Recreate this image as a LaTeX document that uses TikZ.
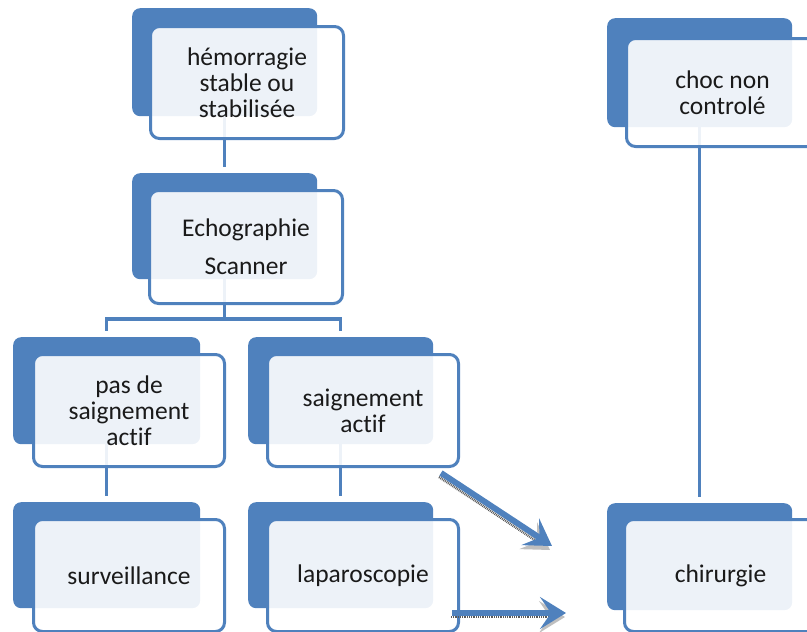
\documentclass[tikz,border=0pt]{standalone}
\usepackage{fontspec}
\setmainfont{Carlito}[Ligatures=NoCommon]
\usetikzlibrary{arrows.meta,calc}
\definecolor{sablue}{HTML}{4F81BD}
\definecolor{txt}{HTML}{1A1A1A}
\tikzset{
  backbox/.style={rectangle, rounded corners=8pt, fill=sablue, draw=none, anchor=north west, inner sep=0pt},
  frontbox/.style={rectangle, rounded corners=9pt, fill=white, fill opacity=0.9, text opacity=1, draw=sablue, line width=3pt, anchor=north west, inner sep=0pt, align=center, text=txt, font=\fontsize{25.5}{26}\selectfont},
  link/.style={draw=sablue, line width=3.2pt, shorten >=6pt},
  bigarrow/.style={draw=sablue, line width=6pt, -{Stealth[length=26pt,width=32pt,inset=11pt]}},
  arrowshadow/.style={draw=black!65, line width=2.5pt, dash pattern=on 0.9pt off 0.9pt, -{Stealth[length=26pt,width=32pt,inset=11pt,color=black!25]}}
}
\begin{document}
\begin{tikzpicture}[x=1pt,y=-1pt]
\useasboundingbox (0,0) rectangle (807,632);
\clip (0,0) rectangle (807,632);
% back boxes
\node[backbox, minimum width=185pt, minimum height=108pt] (b1) at (132,8) {};
\node[backbox, minimum width=185pt, minimum height=106pt] (b2) at (132,173) {};
\node[backbox, minimum width=187pt, minimum height=107pt] (b3) at (13,337) {};
\node[backbox, minimum width=185pt, minimum height=107pt] (b4) at (248,337) {};
\node[backbox, minimum width=187pt, minimum height=106pt] (b5) at (13,502) {};
\node[backbox, minimum width=185pt, minimum height=106pt] (b6) at (248,502) {};
\node[backbox, minimum width=185pt, minimum height=107pt] (b7) at (607,503) {};
\node[backbox, minimum width=185pt, minimum height=109pt] (b8) at (607,18) {};
% connectors
\coordinate (j) at (b2.south |- 0,319);
\draw[link] (b1.south) -- (b2.north);
\draw[link, shorten >=0pt] (b2.south) -- (j);
\draw[link] (j) -| (b3.north);
\draw[link] (j) -| (b4.north);
\draw[link] (b3.south) -- (b5.north);
\draw[link] (b4.south) -- (b6.north);
\draw[link] (b8.south) -- (b7.north);
% front boxes
\node[frontbox, minimum width=193pt, minimum height=112pt] (f1) at (149,25) {hémorragie\\stable ou\\stabilisée};
\node[frontbox, minimum width=193pt, minimum height=113pt] (f2) at (148,189) {Echographie\\[12pt]Scanner};
\node[frontbox, minimum width=191pt, minimum height=112pt] (f3) at (32,353) {pas de\\saignement\\actif};
\node[frontbox, minimum width=191pt, minimum height=112pt] (f4) at (266,353) {saignement\\actif};
\node[frontbox, minimum width=191pt, minimum height=112pt] (f5) at (32,518) {surveillance};
\node[frontbox, minimum width=191pt, minimum height=112pt] (f6) at (266,518) {laparoscopie};
\node[frontbox, minimum width=192pt, minimum height=112pt] (f7) at (623,518) {chirurgie};
\node[frontbox, minimum width=192pt, minimum height=108pt] (f8) at (625,37) {choc non\\controlé};
% arrows
\coordinate (a1s) at (441,473);
\coordinate (a1e) at (552,546);
\coordinate (a2s) at (452,613);
\coordinate (a2e) at (566,613);
\draw[arrowshadow] ($(a1s)+(-2,4)$) -- ($(a1e)+(-2,4)$);
\draw[arrowshadow] ($(a2s)+(-1,4)$) -- ($(a2e)+(-1,4)$);
\draw[bigarrow] (a1s) -- (a1e);
\draw[bigarrow] (a2s) -- (a2e);
\end{tikzpicture}
\end{document}
